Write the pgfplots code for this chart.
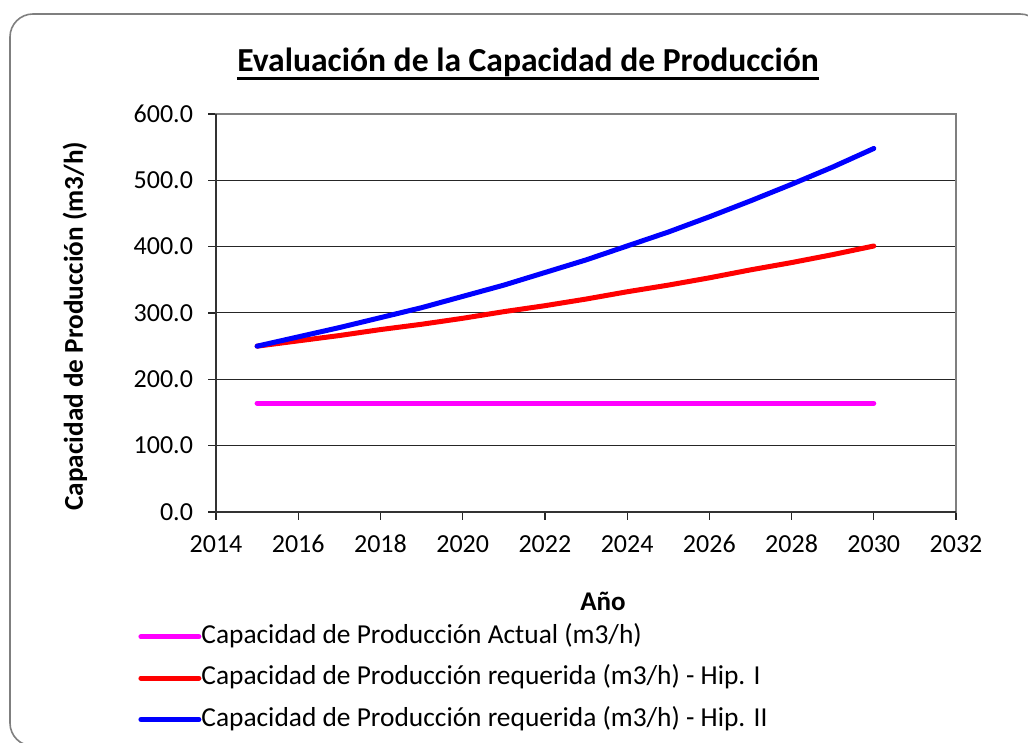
\documentclass[border=0pt]{standalone}
\usepackage{pgfplots}
\pgfplotsset{compat=1.18}
\usepackage{fontspec}
\setmainfont{Carlito}[Numbers=Lining]

\definecolor{ActualColor}{HTML}{FF00FF}
\definecolor{HipIColor}{HTML}{FF0000}
\definecolor{HipIIColor}{HTML}{0000FF}
\definecolor{FrameGray}{HTML}{7F7F7F}

\newcommand\tickfont{\fontsize{13}{15}\selectfont}

\begin{document}
\begin{tikzpicture}
% page = 1028 x 743 px at 0.5pt per px; axis box lower-left at (0,0)
\useasboundingbox (-108pt,-115.5pt) rectangle (406pt,256pt);
\begin{scope}[shift={(-108pt,256pt)}, x=0.5pt, y=-0.5pt]
  \clip (0,0) rectangle (1028,743);
  \draw[FrameGray, line width=0.8pt, rounded corners=11.5pt] (10,14) rectangle (1043,746);
  \node[font=\fontsize{16.8}{20}\selectfont\bfseries, anchor=base, inner sep=0pt] (t) at (528,72)
    {Evaluación de la Capacidad de Producción};
  \draw[line width=1.5pt] ([yshift=-3.5pt]t.base west) -- ([yshift=-3.5pt]t.base east);
\end{scope}
\begin{axis}[
    scale only axis,
    width=370pt,
    height=199pt,
    xmin=2014, xmax=2032,
    ymin=0, ymax=600,
    xtick={2014,2016,...,2032},
    ytick={0,100,...,600},
    % font set inside the label text, in text mode, so digits come from Carlito
    xticklabel={\mbox{\tickfont\pgfmathprintnumber[1000 sep={},assume math mode=true]{\tick}}},
    yticklabel={\mbox{\tickfont\pgfmathprintnumber[fixed,fixed zerofill,precision=1,assume math mode=true]{\tick}}},
    tick pos=left,
    tick align=outside,
    major tick length=4pt,
    tick style={black!85, line width=0.6pt},
    ymajorgrids=true,
    grid style={black!85, line width=0.5pt},
    axis line style={FrameGray, line width=0.7pt},
    tick label style={font=\tickfont},
    xticklabel style={text height=8.7pt, text depth=0pt, yshift=-4pt},
    yticklabel style={xshift=-4pt},
    xlabel={Año},
    ylabel={Capacidad de Producción (m3/h)},
    every axis x label/.style={at={(axis description cs:0.523,-0.2236)}, anchor=center,
      font=\fontsize{13.5}{16}\selectfont\bfseries},
    every axis y label/.style={at={(axis description cs:-0.1905,0.467)}, rotate=90, anchor=center,
      font=\fontsize{13.6}{16}\selectfont\bfseries},
    legend style={
      at={(axis description cs:-0.1054,-0.281)}, anchor=north west,
      draw=none, fill=none, inner sep=0pt,
      row sep=8.2pt, column sep=0pt,
      nodes={inner sep=0pt, text height=9.5pt, text depth=3pt},
      font=\fontsize{13.7}{16}\selectfont
    },
    legend cell align=left,
    legend image code/.code={
      \draw[#1] (0pt,0pt) -- (29pt,0pt);
    },
    every axis plot/.append style={line width=2.5pt, line cap=round, line join=round},
    after end axis/.code={
      \draw[black!80, line width=0.8pt] (rel axis cs:0,1) -- (rel axis cs:0,0) -- (rel axis cs:1,0);
    },
    clip=false
]
\addplot[ActualColor] coordinates {
  (2015,164) (2016,164) (2017,164) (2018,164) (2019,164) (2020,164) (2021,164) (2022,164)
  (2023,164) (2024,164) (2025,164) (2026,164) (2027,164) (2028,164) (2029,164) (2030,164)};
\addplot[HipIColor] coordinates {
  (2015,250) (2016,258) (2017,266) (2018,275) (2019,283) (2020,292) (2021,302) (2022,311)
  (2023,321) (2024,332) (2025,342) (2026,353) (2027,365) (2028,376) (2029,388) (2030,401)};
\addplot[HipIIColor] coordinates {
  (2015,250) (2016,264) (2017,278) (2018,293) (2019,308) (2020,325) (2021,342) (2022,361)
  (2023,380) (2024,401) (2025,422) (2026,445) (2027,469) (2028,494) (2029,520) (2030,548)};
\legend{Capacidad de Producción Actual (m3/h),
        Capacidad de Producción requerida (m3/h) - Hip. I,
        Capacidad de Producción requerida (m3/h) - Hip. II}
\end{axis}
\end{tikzpicture}
\end{document}
